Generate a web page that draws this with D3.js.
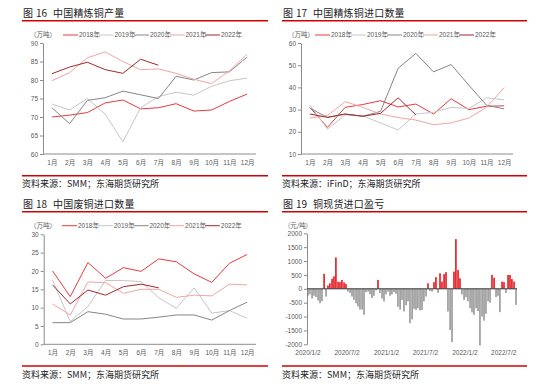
<!DOCTYPE html>
<html>
<head>
<meta charset="utf-8">
<script src="https://cdn.jsdelivr.net/npm/d3@7"></script>
<style>
body { margin: 0; background: #fff; }
text { font-family: "Liberation Sans", "Noto Sans CJK SC", sans-serif; }
.cjk { font-family: "Noto Sans CJK SC", sans-serif; }
</style>
</head>
<body>
<svg id="c" width="550" height="390"></svg>
<script>
// ---- data ----
const months = ['1月','2月','3月','4月','5月','6月','7月','8月','9月','10月','11月','12月'];
const years = ['2018年','2019年','2020年','2021年','2022年'];

// 图16 中国精炼铜产量 (万吨)
const prod2018 = [70, 70.5, 71.2, 73.8, 74.6, 72.2, 72.5, 73.6, 71.6, 71.9, 74.2, 76.2];
const prod2019 = [73.5, 71.9, 75, 70.8, 63.3, 72.5, 75.5, 76.7, 75.9, 78.3, 79.8, 80.5];
const prod2020 = [72.5, 68.2, 74.5, 75.2, 77, 76, 75, 81, 80, 82, 82.2, 86.2];
const prod2021 = [79.8, 82, 86, 87.6, 85, 82.8, 83, 81.8, 80.2, 79, 82.5, 87];
const prod2022 = [81.7, 83.5, 84.8, 82.8, 81.8, 85.6, 84];

// 图17 中国精炼铜进口数量 (万吨)
const imp2018 = [31, 22, 31, 32.3, 34, 31.2, 32.5, 28, 34.9, 30, 31.5, 31.7];
const imp2019 = [32.1, 21.2, 27.6, 27.2, 24, 20.8, 28, 28.8, 31, 30.5, 35.3, 34.4];
const imp2020 = [30.6, 26.5, 28, 27, 29.2, 48.6, 55.3, 47, 50.3, 41, 32, 30.3];
const imp2021 = [26.2, 27.3, 33.6, 31, 28, 26.4, 25.3, 23.2, 24, 26.2, 31, 39.9];
const imp2022 = [28, 26.5, 28, 27, 28.3, 35.3, 27.6];

// 图18 中国废铜进口数量 (万吨)
const scrap2018 = [20, 13, 22.3, 18, 20.9, 19.9, 23.3, 22.5, 19.2, 16.9, 22.1, 24.5];
const scrap2019 = [17.5, 6.2, 10.3, 17.4, 17.4, 17.1, 12.7, 9.8, 15.4, 8.5, 9.2, 7.1];
const scrap2020 = [5.9, 5.9, 8.9, 8.2, 6.9, 6.9, 7.4, 8, 8, 6.6, 9.2, 11.5];
const scrap2021 = [11, 8, 17, 16.8, 13.9, 15, 15, 12.8, 13.4, 13.2, 16.4, 16.2];
const scrap2022 = [16.2, 11, 14.8, 13.4, 15.7, 16.4, 15.4];

// 图19 铜现货进口盈亏 (元/吨), 2020/1/2 起
const profit = [
  -250, -200, -350, -250, -300, -420, -520, -450, 540, -280,
  120, 200, 360, 450, 1130, 260, 240, 320, 230, 170,
  -100, -150, -280, -400, -520, -640, -750, -750, -940, -120,
  -100, -200, -330, -250, -60, 320, -150, -350, -450, -200,
  -100, -250, -200, -120, -180, -650, -750, -400, -820, -600,
  -450, -1240, -1100, -720, -760, -700, -780, -760, -450, -280,
  200, -80, -100, 240, 420, -150, 560, 260, 530, 600,
  -820, -1480, -1920, 620, 1790, 680, 380, -200, -400, -300,
  -450, -700, -850, -940, -700, -800, -2040, -1000, -1150, -900,
  -450, -500, 500, 400, -300, -250, -840, 260, 240, -150,
  500, 500, 350, 260, -580
];
const profitTicks = [2000, 1500, 1000, 500, 0, -500, -1000, -1500, -2000];
const dateTicks = ['2020/1/2', '2020/7/2', '2021/1/2', '2021/7/2', '2022/1/2', '2022/7/2'];

// ---- drawing ----
const yearColors = ['#e8393d', '#c6c6c6', '#858585', '#f5a3a3', '#a3282c'];
const axisColor = '#8c8c8c';
const labelColor = '#595959';
const svg = d3.select('#c');

function frame(left, right, titleY, num, title, sourceY, source) {
  const t = svg.append('text').attr('class', 'cjk').attr('y', titleY)
    .attr('font-size', 10).attr('fill', '#222');
  t.append('tspan').attr('x', left + 1).text('图');
  t.append('tspan').attr('x', left + 14).text(num);
  t.append('tspan').attr('x', left + 31).attr('letter-spacing', 0.2).text(title);
  svg.append('line').attr('x1', left).attr('x2', right)
    .attr('y1', titleY + 3.7).attr('y2', titleY + 3.7)
    .attr('stroke', '#d40000').attr('stroke-width', 1.6);
  svg.append('line').attr('x1', left).attr('x2', right)
    .attr('y1', sourceY).attr('y2', sourceY)
    .attr('stroke', '#d40000').attr('stroke-width', 1.6);
  svg.append('text').attr('class', 'cjk').attr('x', left).attr('y', sourceY + 11.5)
    .attr('font-size', 9).attr('fill', '#222').text(source);
}

function styleAxis(g) {
  g.select('.domain').attr('stroke', axisColor);
  g.selectAll('.tick line').attr('stroke', axisColor);
  g.selectAll('.tick text').attr('fill', labelColor).attr('font-size', 6.5)
    .attr('font-family', '"Liberation Sans", "Noto Sans CJK SC", sans-serif');
}

function lineChart(c) {
  const x = d3.scalePoint().domain(months).range([c.x0, c.x1]).padding(0.5);
  const y = d3.scaleLinear().domain(c.yDomain).range([c.yBot, c.yTop]);

  svg.append('g').attr('transform', `translate(0,${c.yBot})`)
    .call(d3.axisBottom(x).tickSize(0).tickPadding(6))
    .call(styleAxis)
    .call(g => g.select('.domain').attr('d', `M${c.x0},0H${c.x1}`));
  svg.append('g').attr('transform', `translate(${c.x0},0)`)
    .call(d3.axisLeft(y).tickValues(c.yTicks).tickSize(3).tickSizeOuter(0).tickPadding(2))
    .call(styleAxis);

  const line = d3.line().x((d, i) => x(months[i])).y(d => y(d));
  c.series.forEach((s, i) => {
    svg.append('path').datum(s).attr('d', line)
      .attr('fill', 'none').attr('stroke', yearColors[i]).attr('stroke-width', 1);
  });

  // legend
  svg.append('text').attr('class', 'cjk').attr('x', c.unitX).attr('y', c.legendY + 2.3)
    .attr('font-size', 6.5).attr('fill', labelColor).text('（万吨）');
  years.forEach((yr, i) => {
    const lx = c.legendX + i * c.legendStep;
    svg.append('line').attr('x1', lx).attr('x2', lx + 15)
      .attr('y1', c.legendY).attr('y2', c.legendY)
      .attr('stroke', yearColors[i]).attr('stroke-width', 1);
    svg.append('text').attr('x', lx + 16).attr('y', c.legendY + 2.3)
      .attr('font-size', 6.5).attr('fill', labelColor).text(yr);
  });
}

// 图16
frame(22, 268, 17, '16', '中国精炼铜产量', 175.7, '资料来源：SMM；东海期货研究所');
lineChart({
  x0: 43, x1: 256, yTop: 43, yBot: 154, yDomain: [60, 90],
  yTicks: [60, 65, 70, 75, 80, 85, 90],
  series: [prod2018, prod2019, prod2020, prod2021, prod2022],
  unitX: 30, legendX: 63, legendStep: 35.5, legendY: 35
});

// 图17
frame(282, 527, 17, '17', '中国精炼铜进口数量', 175.7, '资料来源：iFinD；东海期货研究所');
lineChart({
  x0: 301, x1: 513, yTop: 43, yBot: 154, yDomain: [10, 60],
  yTicks: [10, 20, 30, 40, 50, 60],
  series: [imp2018, imp2019, imp2020, imp2021, imp2022],
  unitX: 288, legendX: 315, legendStep: 36, legendY: 35
});

// 图18
frame(22, 268, 208, '18', '中国废铜进口数量', 366, '资料来源：SMM；东海期货研究所');
lineChart({
  x0: 43.7, x1: 256, yTop: 234.3, yBot: 344.3, yDomain: [0, 30],
  yTicks: [0, 5, 10, 15, 20, 25, 30],
  series: [scrap2018, scrap2019, scrap2020, scrap2021, scrap2022],
  unitX: 30, legendX: 62, legendStep: 35.7, legendY: 225.7
});

// 图19
frame(282, 527, 208, '19', '铜现货进口盈亏', 366, '资料来源：SMM；东海期货研究所');
(function () {
  const parse = d3.timeParse('%Y/%-m/%-d');
  const t0 = parse('2020/1/2');
  const t1 = parse('2022/8/28');
  const x = d3.scaleTime().domain([t0, t1]).range([308, 516]);
  const y = d3.scaleLinear().domain([-2000, 2000]).range([344.3, 233.3]);
  const span = d3.timeDay.count(t0, t1);
  const dates = profit.map((v, i) => d3.timeDay.offset(t0, Math.round(i * span / (profit.length - 1))));

  svg.append('g').selectAll('rect').data(profit).join('rect')
    .attr('x', (d, i) => x(dates[i]) - 0.85)
    .attr('width', 1.7)
    .attr('y', d => y(Math.max(0, d)))
    .attr('height', d => Math.abs(y(d) - y(0)))
    .attr('fill', d => d >= 0 ? '#e3262b' : '#9e9e9e');

  svg.append('g').attr('transform', 'translate(307,0)')
    .call(d3.axisLeft(y).tickValues(profitTicks).tickFormat(d => String(d)).tickSize(3).tickSizeOuter(0).tickPadding(2))
    .call(styleAxis);

  svg.append('line').attr('x1', 307).attr('x2', 517)
    .attr('y1', y(0)).attr('y2', y(0))
    .attr('stroke', '#3a3a3a').attr('stroke-width', 1);

  svg.append('g').selectAll('text').data(dateTicks).join('text')
    .attr('x', d => x(parse(d)))
    .attr('y', 355)
    .attr('text-anchor', 'middle')
    .attr('font-size', 6.5).attr('fill', labelColor)
    .text(d => d);

  svg.append('text').attr('class', 'cjk').attr('x', 288).attr('y', 228)
    .attr('font-size', 6.5).attr('fill', labelColor).text('(元/吨)');
})();
</script>
</body>
</html>
